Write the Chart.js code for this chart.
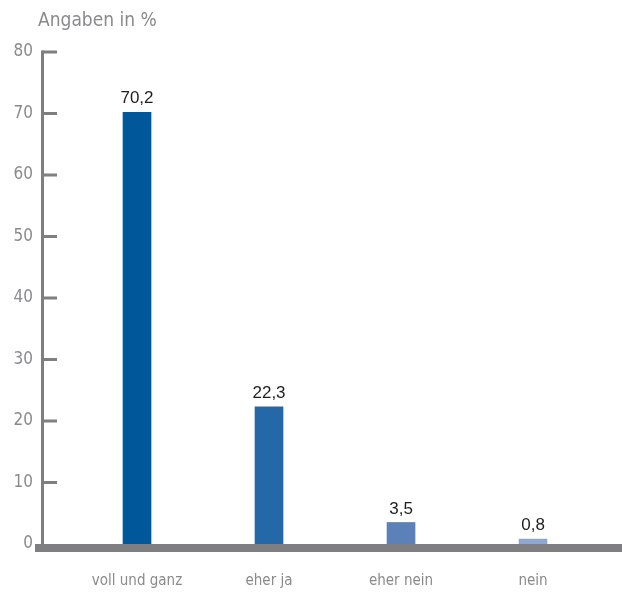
<!DOCTYPE html>
<html><head><meta charset="utf-8">
<script src="https://cdn.jsdelivr.net/npm/chart.js@4/dist/chart.umd.min.js"></script>
<style>html,body{margin:0;padding:0;background:#fff}#w{width:622px;height:594px}</style>
</head><body><div id="w"><canvas id="c"></canvas></div>
<script>
const categories = ['voll und ganz', 'eher ja', 'eher nein', 'nein'];
const values = [70.2, 22.3, 3.5, 0.8];
const valueLabels = ['70,2', '22,3', '3,5', '0,8'];
const barColors = ['#00589a', '#2468a8', '#5b81b8', '#8ba7d4'];
const yTicks = [0, 10, 20, 30, 40, 50, 60, 70, 80];
const unitLabel = 'Angaben in %';

const NARROW = "'Liberation Sans Narrow', 'DejaVu Sans Condensed', 'Liberation Sans', sans-serif";
const GRAY = '#8a8a8d';

const decor = {
  id: 'decor',
  afterDatasetsDraw(chart) {
    const ctx = chart.ctx, y = chart.scales.y, a = chart.chartArea;
    ctx.save();
    ctx.fillStyle = '#1e1e1e';
    ctx.font = "17px 'Liberation Sans', Arial, sans-serif";
    ctx.textAlign = 'center'; ctx.textBaseline = 'bottom';
    chart.getDatasetMeta(0).data.forEach((bar, i) => {
      ctx.fillText(valueLabels[i], bar.x, bar.y - 5);
    });
    ctx.fillStyle = '#7f7f82';
    const top = y.getPixelForValue(80), zero = y.getPixelForValue(0);
    ctx.fillRect(a.left - 1, top - 1.5, 3, zero - top + 2);
    yTicks.forEach(v => {
      if (v === 0) return;
      const p = y.getPixelForValue(v);
      ctx.fillRect(a.left, p - 1.5, 15, 3);
    });
    ctx.fillRect(a.left - 7, zero, a.right - a.left + 7, 8);
    ctx.fillStyle = GRAY;
    ctx.font = "19px " + NARROW;
    ctx.textAlign = 'left'; ctx.textBaseline = 'middle';
    ctx.fillText(unitLabel, 38, 21);
    ctx.restore();
  }
};

new Chart(document.getElementById('c'), {
  type: 'bar',
  data: {
    datasets: [{
      data: values.map((v, i) => ({ x: i, y: v })),
      backgroundColor: barColors,
      barThickness: 28
    }]
  },
  options: {
    responsive: true, maintainAspectRatio: false, animation: false,
    layout: { padding: { top: 52, left: 0, right: 0, bottom: 0 } },
    plugins: { legend: { display: false }, tooltip: { enabled: false } },
    scales: {
      x: {
        type: 'linear', min: -0.7197, max: 3.674, offset: false,
        afterBuildTicks: s => { s.ticks = categories.map((c, i) => ({ value: i })); },
        afterFit: s => { s.height = 50; },
        grid: { display: false, drawTicks: false }, border: { display: false },
        ticks: {
          padding: 28, color: GRAY, font: { family: NARROW, size: 15 },
          callback: v => categories[v] ?? ''
        }
      },
      y: {
        min: 0, max: 80,
        afterBuildTicks: s => { s.ticks = yTicks.map(v => ({ value: v })); },
        afterFit: s => { s.width = 42; },
        grid: { display: false, drawTicks: false }, border: { display: false },
        ticks: { padding: 9, color: GRAY, font: { family: NARROW, size: 17 } }
      }
    }
  },
  plugins: [decor]
});
</script></body></html>
